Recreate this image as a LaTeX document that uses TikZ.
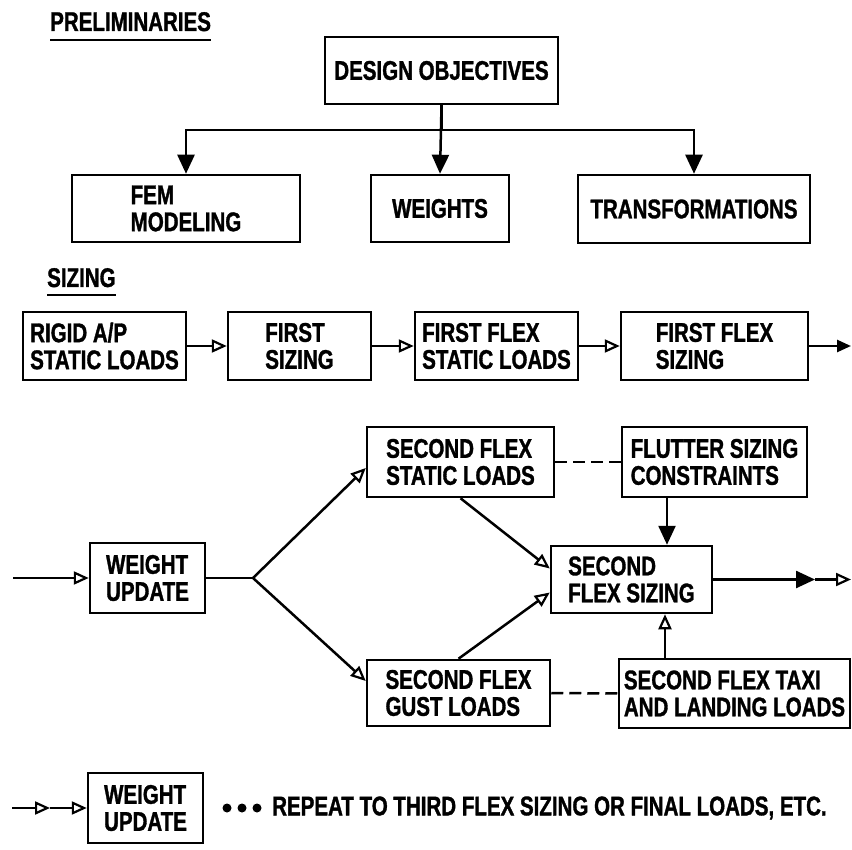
\documentclass[tikz,border=0pt]{standalone}
\usepackage{fontspec}
\newfontfamily\cf{Liberation Sans}[FakeStretch=0.76, BoldFeatures={FakeBold=1.2}]
\usetikzlibrary{arrows.meta,calc}
\tikzset{
  box/.style={draw, line width=2.5pt, align=left, inner sep=0pt, font=\cf\bfseries\fontsize{27}{27}\selectfont},
  lbl/.style={inner sep=0pt, font=\cf\bfseries\fontsize{27}{27}\selectfont},
  conn/.style={line width=2.5pt},
  farr/.style={conn, -{Triangle[length=19pt,width=17pt]}},
  farrs/.style={conn, -{Triangle[length=14pt,width=12pt]}},
  oarr/.style={conn, -{Triangle[open,length=15pt,width=13pt,line width=2.2pt]}},
  dsh/.style={conn, dash pattern=on 12pt off 6pt},
}
\begin{document}
\begin{tikzpicture}[x=1pt,y=-1pt]
\useasboundingbox (0,0) rectangle (852,850);
% headings
\node[lbl, anchor=base west] (pre) at (50,31) {PRELIMINARIES};
\draw[conn] ([yshift=-9pt]pre.base west) -- ([yshift=-9pt]pre.base east);
\node[lbl, anchor=base west] (siz) at (47,287) {SIZING};
\draw[conn] ([yshift=-8pt]siz.base west) -- ([yshift=-8pt]siz.base east);
% preliminaries
\node[box, minimum width=233pt, minimum height=67pt] (do) at (441.5,70.5) {DESIGN OBJECTIVES};
\node[box, minimum width=228pt, minimum height=67pt] (fem) at (186,208.5) {FEM\\MODELING};
\node[box, minimum width=138pt, minimum height=67pt] (wts) at (440,208.5) {WEIGHTS};
\node[box, minimum width=232pt, minimum height=68pt] (trf) at (694,209) {TRANSFORMATIONS};
\coordinate (j) at (441.5,130);
\draw[conn] (do.south) -- (j);
\draw[farr] (j) -| (fem.north);
\draw[farr] (j) -| (trf.north);
\draw[farr] (do.south) -- (wts.north);
% first sizing row
\node[box, minimum width=163pt, minimum height=68pt] (rig) at (104.5,346) {RIGID A/P\\STATIC LOADS};
\node[box, minimum width=143pt, minimum height=68pt] (fs) at (299.5,346) {FIRST\\SIZING};
\node[box, minimum width=163pt, minimum height=68pt] (ffsl) at (496.5,346) {FIRST FLEX\\STATIC LOADS};
\node[box, minimum width=187pt, minimum height=68pt] (ffs) at (714.5,346) {FIRST FLEX\\SIZING};
\coordinate (fo) at (851,346);
\draw[oarr] (rig) -- (fs);
\draw[oarr] (fs) -- (ffsl);
\draw[oarr] (ffsl) -- (ffs);
\draw[farrs] (ffs) -- (fo);
% second sizing
\coordinate (win) at (13,578);
\node[box, minimum width=115pt, minimum height=70pt] (wu) at (147.5,578) {WEIGHT\\UPDATE};
\node[box, minimum width=187pt, minimum height=70pt] (sfsl) at (460.5,462) {SECOND FLEX\\STATIC LOADS};
\node[box, minimum width=185pt, minimum height=70pt] (flu) at (714.5,462) {FLUTTER SIZING\\CONSTRAINTS};
\node[box, minimum width=161pt, minimum height=67pt] (sfs) at (631.5,579.5) {SECOND\\FLEX SIZING};
\node[box, minimum width=183pt, minimum height=66pt] (gust) at (458.5,693) {SECOND FLEX\\GUST LOADS};
\node[box, minimum width=231pt, minimum height=69pt] (taxi) at (734.5,693.5) {SECOND FLEX TAXI\\AND LANDING LOADS};
\coordinate (br) at (253,578);
\draw[oarr] (win) -- (wu);
\draw[conn] (wu.east) -- (br);
\draw[oarr] (br) -- ([yshift=-6pt]sfsl.west);
\draw[oarr] (br) -- ([yshift=12pt]gust.west);
\draw[oarr] (sfsl.south) -- ([yshift=11pt]sfs.west);
\draw[oarr] (gust.north) -- ([yshift=-13pt]sfs.west);
\draw[farr] ([xshift=-47.5pt]flu.south) -- ([xshift=-47.5pt]flu.south |- sfs.north);
\draw[oarr] ([xshift=-69.5pt]taxi.north) -- ([xshift=-69.5pt]taxi.north |- sfs.south);
\draw[dsh] (sfsl.east) -- (flu.west);
\draw[dsh] (gust.east) -- (taxi.west);
\coordinate (o1) at (815,579.5);
\coordinate (o2) at (851,579.5);
\draw[farr] (sfs.east) -- (o1);
\draw[oarr] (o1) -- (o2);
% repeat
\coordinate (bin) at (12,808);
\coordinate (bmid) at (50,808);
\node[box, minimum width=115pt, minimum height=70pt] (wu2) at (145.5,808) {WEIGHT\\UPDATE};
\draw[oarr] (bin) -- (bmid);
\draw[oarr] (bmid) -- (wu2);
\fill (227,808) circle (4.5pt) (242,808) circle (4.5pt) (257,808) circle (4.5pt);
\node[lbl, anchor=west] (rep) at (272,808) {REPEAT TO THIRD FLEX SIZING OR FINAL LOADS, ETC.};
\end{tikzpicture}
\end{document}
